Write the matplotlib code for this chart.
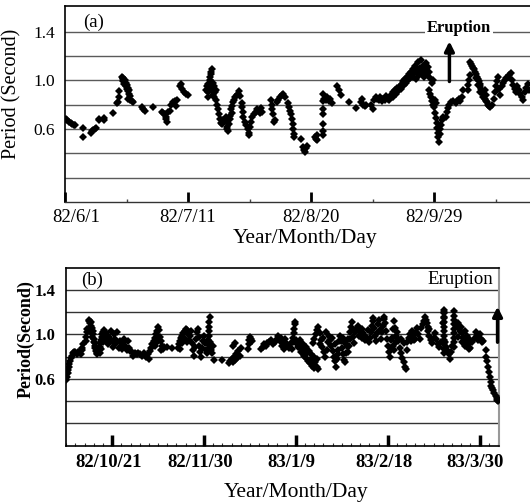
import matplotlib
matplotlib.use("Agg")
import matplotlib.pyplot as plt
import matplotlib.transforms as mtransforms
import numpy as np

plt.rcParams['font.family'] = ['Liberation Serif', 'DejaVu Serif']

# ---------------- data (days since start, period in seconds) ----------------
# Panel (a): day 0 = 82/6/1
days_a = [0.3,0.8,1.3,1.8,2.3,2.8,3.3, 5.8,5.9, 8.3,8.8,9.2,9.6,10.0, 11.0,11.2, 12.7,12.8, 15.6,
          16.8,17.2,17.6,17.7,
          18.5,18.7,18.9,19.0,19.3,19.5,19.7,19.9,20.0,20.2,20.4,20.6,20.8,20.9,21.0,
          20.5,21.2,21.8,22.2, 25.0,25.5,26.0, 28.7,
          31.4,32.0,32.5,33.0,33.0,33.2,33.6,34.0, 34.6,35.2,35.8,36.3,36.2,
          37.3,37.8,38.2,38.8,39.2,40.0,
          46.0,46.2,46.4,46.6,46.8,47.0,47.1,47.3,47.5,47.6,47.8,47.7,47.9,48.0,48.2,48.3,48.5,48.6,48.8,49.0,49.1,46.5,
          49.5,49.7,50.0,50.3,50.6,50.9,51.2,
          52.5,52.6,52.7,52.8,53.0,53.3,53.5,53.6,
          54.0,54.3,54.6,55.0,55.4,55.8,56.2,56.6,57.0,54.3,
          57.4,57.6,57.8,58.0,58.5,59.0,59.4,59.7,59.9,60.2,60.5,
          60.8,61.5,62.0,62.5,63.0,63.5,64.2,63.8,
          67.0,67.2,67.4,67.6,67.8,68.2,
          68.8,69.3,69.8,70.4,71.0,71.4,
          72.4,72.8,73.2,73.5,73.8,74.0,74.2,74.4,74.6,
          76.8,77.3,77.6,77.9,78.3,78.8,
          81.2,81.6,82.1,82.0,
          83.9,83.9,83.9,83.9,83.9,83.9,83.9,
          84.3,84.8,85.3,85.8,86.3,86.7, 88.6,89.2,89.9, 92.5, 94.7,
          96.3,96.6,97.0,97.5,98.0, 99.6,100.0,
          100.6,101.0,101.5,102.0,102.5,103.0,103.5,104.0,104.5,105.0,105.5,106.0,106.5,
          106.8,107.2,107.6,108.0,108.4,108.8,109.2,109.6,
          110.0,110.3,110.6,110.9,111.2,111.5,111.8,112.1,112.4,112.7,113.0,113.3,113.6,113.9,114.2,114.5,
          114.8,115.1,115.4,115.7,116.0,116.3,116.6,117.0,117.3,117.6,118.0,118.4,118.8,119.2,119.5,
          118.3,118.6,119.0,119.3,119.7,120.0,120.3,120.6,
          120.4,120.6,120.8,121.0,121.2,121.4,121.5,121.8,122.0,122.3,122.6,122.8,
          124.0,124.3,124.6,125.0,125.5,126.0,
          127.0,127.5,128.0,128.5,129.0,129.3,
          131.0,131.2,131.4,131.6,
          131.8,132.1,132.4,132.7,133.0,133.3,133.6,133.9,134.2,134.5,134.8,135.1,135.4,135.7,136.0,
          136.3,136.6,136.9,137.2,137.5,137.9,138.3,138.7,133.5,134.3,135.0,135.8,136.5,137.0,
          139.6,139.9,140.2,140.5,140.8,141.2,141.6,
          142.0,142.5,143.0,143.5,144.0,144.5,145.0,145.4,145.8,146.3,146.7,
          147.0,147.5,148.0,148.5,149.0,149.5,150.0,150.5,150.8]
period_a = [0.68,0.67,0.66,0.65,0.64,0.63,0.63, 0.61,0.53, 0.57,0.58,0.59,0.60,0.61, 0.68,0.67, 0.69,0.67, 0.73,
            0.81,0.82,0.86,0.91,
            1.03,1.01,0.99,1.02,0.97,1.00,0.95,0.98,0.93,0.96,0.91,0.94,0.89,0.92,0.87,
            0.85,0.84,0.83,0.82, 0.78,0.76,0.75, 0.78,
            0.74,0.73,0.72,0.70,0.68,0.66,0.74,0.75, 0.80,0.82,0.83,0.84,0.79,
            0.95,0.97,0.93,0.90,0.89,0.88,
            0.92,0.95,0.90,0.97,0.93,1.00,0.96,1.03,1.05,1.07,1.09,0.94,0.91,0.98,0.88,0.93,0.86,0.95,0.90,0.84,0.92,0.86,
            0.80,0.76,0.72,0.68,0.65,0.64,0.67,
            0.70,0.66,0.62,0.60,0.58,0.64,0.68,0.71,
            0.76,0.79,0.82,0.84,0.86,0.88,0.89,0.91,0.87,0.73,
            0.81,0.78,0.74,0.70,0.66,0.63,0.60,0.57,0.55,0.62,0.66,
            0.70,0.72,0.74,0.76,0.75,0.73,0.74,0.77,
            0.84,0.80,0.76,0.72,0.66,0.67,
            0.82,0.84,0.86,0.88,0.89,0.86,
            0.81,0.78,0.75,0.72,0.68,0.64,0.60,0.56,0.53,
            0.52,0.45,0.43,0.41,0.44,0.46,
            0.53,0.52,0.51,0.55,
            0.89,0.83,0.76,0.72,0.64,0.58,0.55,
            0.85,0.84,0.86,0.83,0.85,0.81, 0.95,0.92,0.88, 0.82, 0.77,
            0.82,0.85,0.80,0.79,0.80, 0.80,0.76,
            0.84,0.86,0.85,0.84,0.86,0.83,0.85,0.84,0.87,0.85,0.84,0.88,0.86,
            0.90,0.92,0.89,0.94,0.91,0.95,0.93,0.97,
            0.99,0.96,1.01,0.98,1.03,1.00,1.05,1.02,1.07,1.04,1.09,1.03,1.06,1.12,1.01,1.08,
            1.15,1.04,1.10,1.17,1.06,1.12,1.03,1.09,1.14,1.05,1.11,1.07,1.02,0.98,1.00,
            0.92,0.89,0.86,0.83,0.80,0.78,0.84,0.81,
            0.73,0.69,0.65,0.61,0.57,0.53,0.49,0.56,0.60,0.63,0.67,0.70,
            0.70,0.74,0.77,0.80,0.82,0.83,
            0.81,0.83,0.85,0.83,0.86,0.92,
            0.92,0.96,1.00,1.04,
            1.15,1.13,1.12,1.10,1.09,1.07,1.05,1.03,1.01,0.99,0.97,0.95,0.93,0.91,0.89,
            0.87,0.85,0.83,0.82,0.80,0.79,0.78,0.80,1.02,0.96,0.90,0.86,0.92,0.88,
            0.85,0.90,0.95,0.99,1.03,0.93,0.88,
            0.95,0.98,1.00,1.02,1.03,1.04,1.06,1.00,0.96,0.93,0.90,
            0.95,0.92,0.89,0.86,0.84,0.90,0.94,0.97,0.92]

# Panel (b): day 0 = 82/10/1
days_b = [0.0,0.3,0.6,0.9,1.1, 1.4,1.8,2.2,2.6,3.0,3.5,4.0, 4.5,5.0,5.5,6.0,6.5,7.0, 7.0,7.2,
          8.4,8.7,9.0,9.2,
          9.7,10.0,10.3,10.6,10.9,11.2,11.5,11.8,12.1,12.4,12.7,13.0,13.3,13.6,10.2,10.8,11.4,12.0,12.6,13.2,
          13.9,14.2,14.5,14.8,15.1,15.4,15.7,16.0,16.3,14.6,15.2,15.8,
          16.8,17.3,17.8,18.3,18.8,19.3,19.8,20.3,20.8,21.3,21.8,22.3,22.8,23.3,23.8,24.3,
          24.8,25.3,25.8,26.3,26.8,27.3,27.8,28.5,
          29.0,29.8,30.6,31.4,32.2,33.0,33.8,34.6,35.4,36.0,
          36.5,37.0,37.5,38.0,38.5,39.0,39.5,40.0,40.4,40.8,41.2,41.6,42.0,38.8,39.6,40.5,41.4,
          42.5,44.0,46.0,
          48.5,49.0,49.5,50.0,50.5,51.0,51.5,52.0,52.5,53.0,49.6,50.6,51.6,52.6,
          53.5,54.0,54.4,54.8,55.2,55.6,56.0,56.4,56.8,57.2,57.6,58.0,58.4,58.8,59.2,59.6,60.0,60.4,60.8,
          61.5,61.7,61.8,61.9,62.0,62.1,62.2,62.3,62.4,62.6,62.9,63.2,63.5,63.7,
          64.5,68.0,
          71.0,71.5,72.0,72.5,73.0,73.5,74.0,74.5,75.0,75.5,76.0,72.8,73.6,
          79.0,79.4,79.8,80.2,80.6,81.0,
          84.8,85.5,86.2,86.9,87.6,88.4,89.2,
          90.0,90.8,91.6,92.4,93.2,94.0,94.8,95.5,
          93.6,94.4,95.3,96.2,97.0,97.8,98.5,
          98.7,98.9,99.1,99.3,99.5,99.7,100.0,100.4,100.8,
          101.2,101.8,102.4,103.0,103.6,104.2,104.8,105.4,106.0,106.6,107.2,107.8,108.4,109.0,109.6,
          102.0,103.2,104.4,105.6,106.8,108.0,109.2,
          107.4,108.0,108.6,109.2,109.8,110.4,111.0,111.6,112.2,112.8,113.4,114.0,110.6,111.8,113.0,
          114.5,115.0,115.5,116.0,116.5,117.0,117.5,118.0,118.5,119.0,115.8,117.2,118.2,
          119.4,119.8,120.2,120.6,121.0,121.4,121.8,122.2,122.6,120.5,121.6,
          122.8,123.1,123.4,123.7,124.0,124.3,124.7,125.1,125.5,
          125.8,126.4,127.0,127.6,128.2,128.8,129.4,130.0,130.6,131.2,131.8,127.3,129.0,
          132.2,132.6,133.0,133.4,133.8,134.2,134.6,135.0,135.4,135.8,136.2,136.6,137.0,
          137.4,137.8,138.2,138.6,139.0,139.4,139.8,140.2,140.6,141.0,141.4,141.8,142.2,142.6,143.0,143.4,143.8,
          141.6,142.2,142.8,143.4,144.0,144.6,145.2,145.8,146.4,147.0,147.6,148.0,146.0,147.2,148.2,
          148.6,149.2,149.8,150.4,151.0,151.6,152.2,152.8,153.4,154.0,150.2,152.0,
          154.7,155.2,155.7,156.2,156.7,157.2,157.7,158.2,
          157.6,158.2,158.8,159.4,160.0,160.6,161.2,161.8,162.4,163.0,
          164.3,164.3,164.3,164.3,164.3,164.3,164.3,164.3,164.3,164.3,164.3,164.7,164.7,164.0,
          165.0,165.5,166.0,166.5,167.0,167.5,168.0,
          168.8,168.8,168.8,168.8,168.8,168.8,168.8,168.8,168.8,
          170.0,170.5,171.0,171.5,172.0,172.5,173.0,173.5,174.0,174.5,175.0,175.5,176.0,176.5,170.8,172.2,173.6,175.2,
          178.0,178.5,179.0,179.5,180.0,180.5,181.0,181.5,
          182.8,183.0,183.4,183.7,184.0,184.4,184.8,185.2,
          185.5,186.0,186.5,187.0,187.4,187.8,188.2]
period_b = [0.59,0.62,0.65,0.68,0.71, 0.73,0.76,0.79,0.81,0.83,0.84,0.84, 0.82,0.84,0.83,0.85,0.82,0.86, 0.88,0.91,
            0.94,0.98,1.02,1.05,
            1.13,1.12,1.10,1.11,1.08,1.06,1.03,1.00,0.96,0.92,0.88,0.85,0.83,0.82,1.06,1.02,0.98,0.93,0.90,0.87,
            0.84,0.86,0.89,0.92,0.95,0.98,1.00,1.02,1.04,0.83,0.87,0.93,
            0.97,1.01,0.95,0.91,0.98,1.03,0.94,0.89,1.00,0.96,0.92,1.02,0.88,0.94,0.90,0.87,
            0.92,0.96,0.90,0.86,0.94,0.88,0.85,0.84,
            0.81,0.83,0.82,0.83,0.82,0.81,0.83,0.80,0.82,0.78,
            0.85,0.88,0.91,0.94,0.97,1.00,1.03,1.07,1.04,0.98,0.94,0.90,0.87,0.90,0.93,0.95,0.86,
            0.89,0.89,0.88,
            0.88,0.91,0.94,0.97,0.99,1.01,1.03,1.05,1.04,1.00,0.87,0.92,0.96,0.93,
            0.95,0.99,1.03,0.92,0.86,0.81,0.89,0.96,1.02,1.05,0.98,0.90,0.84,0.80,0.88,0.94,0.99,0.92,0.86,
            0.83,0.87,0.91,0.95,0.99,1.03,1.07,1.11,1.16,0.93,0.89,0.86,0.83,0.90,
            0.77,0.77,
            0.74,0.76,0.78,0.75,0.80,0.77,0.82,0.79,0.85,0.81,0.88,0.90,0.92,
            0.87,0.91,0.95,0.98,0.96,0.94,
            0.87,0.89,0.91,0.90,0.92,0.93,0.95,
            0.91,0.93,0.96,0.99,0.94,0.90,0.87,0.92,
            0.97,0.93,0.96,0.90,0.88,0.92,0.87,
            0.93,0.97,1.01,1.05,1.09,1.11,0.95,0.91,0.89,
            0.92,0.88,0.84,0.86,0.81,0.79,0.83,0.76,0.74,0.78,0.72,0.70,0.75,0.71,0.69,
            0.95,0.91,0.89,0.85,0.82,0.80,0.78,
            0.92,0.96,1.00,1.04,1.07,1.01,0.95,0.89,0.84,0.80,0.86,0.93,0.91,0.97,1.02,
            0.99,0.95,0.90,0.85,0.80,0.76,0.71,0.78,0.86,0.94,0.97,0.91,0.82,
            0.99,0.94,0.88,0.82,0.77,0.75,0.83,0.90,0.96,0.97,0.92,
            0.84,0.90,0.96,1.02,1.07,1.11,1.04,0.98,0.92,
            1.02,1.05,1.08,1.03,1.00,0.97,1.01,0.95,0.98,1.04,0.93,0.99,1.05,
            0.97,1.02,1.08,1.12,1.15,1.06,0.99,0.94,1.01,1.09,1.13,1.04,0.96,
            1.02,1.08,1.14,1.16,1.10,1.03,0.96,0.90,0.84,0.80,0.88,0.97,1.05,1.12,1.06,0.99,0.93,
            0.95,0.90,0.86,0.98,1.02,0.94,0.88,0.83,0.79,0.75,0.71,0.69,0.96,0.92,0.86,
            0.93,0.97,1.00,1.03,0.99,0.95,1.02,1.06,1.00,0.96,0.94,0.96,
            1.06,1.09,1.12,1.16,1.13,1.10,1.07,1.05,
            1.03,0.99,0.95,0.92,0.97,1.01,0.96,0.91,0.89,0.93,
            0.83,0.87,0.91,0.95,0.99,1.03,1.07,1.11,1.15,1.19,1.22,1.20,1.16,1.10,
            0.93,0.89,0.86,0.82,0.78,0.84,0.90,
            0.89,0.93,0.97,1.01,1.05,1.09,1.13,1.17,1.21,
            1.08,1.10,1.06,1.03,1.07,1.01,0.97,1.03,0.94,0.99,0.91,0.96,0.88,0.93,0.98,0.93,0.90,0.87,
            0.97,1.02,0.99,0.95,1.00,0.96,0.93,0.94,
            0.86,0.80,0.76,0.71,0.66,0.62,0.57,0.54,
            0.52,0.50,0.47,0.45,0.43,0.41,0.40]

ticks_a = [0, 40, 80, 120]
labels_a = ['82/6/1', '82/7/11', '82/8/20', '82/9/29']
ticks_b = [20, 60, 100, 140, 180]
labels_b = ['82/10/21', '82/11/30', '83/1/9', '83/2/18', '83/3/30']
ytick_vals = [0.6, 1.0, 1.4]
ytick_labels = ['0.6', '1.0', '1.4']
grid_levels = [0.2, 0.4, 0.6, 0.8, 1.0, 1.2, 1.4]
eruption_a = 125
# ---------------------------------------------------------------------------

W, H = 530, 504
fig = plt.figure(figsize=(W/100, H/100), dpi=100)

def fx(px): return px / W
def fy(py): return 1 - py / H

ax1 = fig.add_axes([fx(65), fy(202), (530 - 65) / W, (202 - 6) / H])
ax2 = fig.add_axes([fx(65.7), fy(445.7), (499.3 - 65.7) / W, (445.7 - 267.7) / H])

MS = 3.6

# ---- panel (a)
ax1.set_xlim(0, 151.2)
ax1.set_ylim(0, 1.61)
for g in grid_levels:
    ax1.axhline(g, color='#5a5a5a', lw=1.0, zorder=1)
ax1.plot(days_a, period_a, 'D', color='black', ms=MS, mew=0, zorder=3)
ax1.set_xticks(ticks_a)
ax1.set_xticklabels(labels_a, fontsize=13.5)
ax1.set_xticks([20, 60, 100, 140], minor=True)
ax1.tick_params(axis='x', which='major', direction='in', length=7, width=2, pad=5, color='black')
ax1.tick_params(axis='x', which='minor', direction='in', length=2, width=1, color='#444444')
ax1.set_yticks(ytick_vals)
ax1.set_yticklabels(ytick_labels, fontsize=12.5)
ax1.tick_params(axis='y', length=0, pad=7)
for s in ['top', 'left']:
    ax1.spines[s].set_color('black'); ax1.spines[s].set_linewidth(1.2)
ax1.spines['bottom'].set_color('#333333'); ax1.spines['bottom'].set_linewidth(1.0)
ax1.spines['right'].set_visible(False)
# first date label sits right of its tick in the reference
lab0 = ax1.get_xticklabels()[0]
lab0.set_transform(lab0.get_transform() + mtransforms.ScaledTranslation(11/100, 0, fig.dpi_scale_trans))
ax1.text(0.04, 0.915, '(a)', transform=ax1.transAxes, fontsize=13.5, ha='left', va='center')
ax1.text(0.848, 0.89, 'Eruption', transform=ax1.transAxes, fontsize=12, fontweight='bold',
         ha='center', va='center', zorder=4,
         bbox=dict(facecolor='white', edgecolor='none', pad=1.5))
ax1.annotate('', xy=(eruption_a, 1.32), xytext=(eruption_a, 0.99),
             arrowprops=dict(arrowstyle='-|>', lw=2.5, color='black', mutation_scale=14,
                             shrinkA=0, shrinkB=0), zorder=5)

# ---- panel (b)
ax2.set_xlim(-0.24, 188.6)
ax2.set_ylim(0, 1.6)
for g in grid_levels:
    ax2.axhline(g, color='#333333', lw=1.0, zorder=1)
ax2.plot(days_b, period_b, 'D', color='black', ms=MS, mew=0, zorder=3)
ax2.set_xticks(ticks_b)
ax2.set_xticklabels(labels_b, fontsize=13.5, fontweight='bold')
ax2.set_xticks([d for d in range(0, 189, 4) if d % 40 != 20], minor=True)
ax2.tick_params(axis='x', which='major', direction='in', length=8, width=2.5, pad=6, color='black')
ax2.tick_params(axis='x', which='minor', direction='in', length=2.5, width=0.8, color='#333333')
ax2.set_yticks(ytick_vals)
ax2.set_yticklabels(ytick_labels, fontsize=12, fontweight='bold')
ax2.tick_params(axis='y', length=0, pad=7.5)
for s in ['top', 'left', 'bottom']:
    ax2.spines[s].set_color('black'); ax2.spines[s].set_linewidth(1.2)
ax2.spines['right'].set_color('#999999'); ax2.spines['right'].set_linewidth(1.5)
for lab in ax2.get_xticklabels():
    lab.set_transform(lab.get_transform() + mtransforms.ScaledTranslation(-4/100, 0, fig.dpi_scale_trans))
ax2.text(0.035, 0.93, '(b)', transform=ax2.transAxes, fontsize=13.5, ha='left', va='center')
ax2.text(0.909, 0.931, 'Eruption', transform=ax2.transAxes, fontsize=13.5,
         ha='center', va='center', zorder=4)
ax2.annotate('', xy=(0.996, 1.25), xytext=(0.996, 0.93),
             xycoords=('axes fraction', 'data'), textcoords=('axes fraction', 'data'),
             arrowprops=dict(arrowstyle='-|>', lw=2.5, color='black', mutation_scale=14,
                             shrinkA=0, shrinkB=0), zorder=5, annotation_clip=False)

# ---- axis titles
fig.text(fx(12), fy(93.5), 'Period (Second)', rotation=90, fontsize=14.5, ha='center', va='center')
fig.text(fx(305.5), fy(238), 'Year/Month/Day', fontsize=15.5, ha='center', va='center')
fig.text(fx(26), fy(339), 'Period(Second)', rotation=90, fontsize=13, fontweight='bold',
         ha='center', va='center')
fig.text(fx(296), fy(492), 'Year/Month/Day', fontsize=15.5, ha='center', va='center')

fig.savefig('out.png', dpi=100)
